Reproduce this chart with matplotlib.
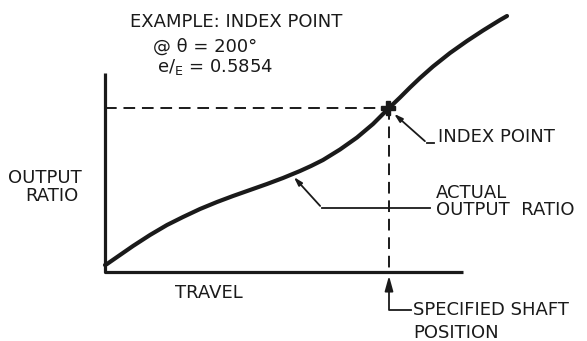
import matplotlib.pyplot as plt
import numpy as np

# curve (travel, output ratio) in drawing units
travel = [0, 2, 15, 28, 45, 62, 78, 95, 112, 128, 145, 162, 178, 195, 206,
          218, 235, 252, 268, 283, 295, 305, 315, 328, 345, 362, 378, 395, 402]
ratio = [7, 8, 17, 26, 37, 47, 55, 63, 70, 76, 82, 88, 94, 101, 106,
         112, 122.5, 134.5, 148, 163, 174.5, 184.5, 194, 205.5, 219, 231, 241.5, 252, 256]

# index point
index_travel = 283
index_ratio = 164

# axis extents
x_axis_end = 358
y_axis_end = 199

fig = plt.figure(figsize=(5.87, 3.41), dpi=100)
ax = fig.add_axes([0, 0, 1, 1])
ax.set_xlim(-105, 482)
ax.set_ylim(-69, 272)
ax.axis('off')

ink = '#1a1a1a'
font = dict(family='DejaVu Sans', fontsize=13, color=ink)

# axes of the diagram
ax.plot([0, 0, x_axis_end], [y_axis_end, 0, 0], color=ink, lw=2.3,
        solid_joinstyle='round', solid_capstyle='butt')

# the actual output ratio curve
ax.plot(travel, ratio, color=ink, lw=3, solid_capstyle='round',
        solid_joinstyle='round')

# dashed projections of the index point
ax.plot([0, index_travel], [index_ratio, index_ratio], color=ink, lw=1.4,
        dashes=(6, 3.5))
ax.plot([index_travel + 1, index_travel + 1], [index_ratio, 0], color=ink, lw=1.4,
        dashes=(6, 3.5))
ax.plot(index_travel, index_ratio, marker='P', ms=10, color=ink)

# leaders
ax.annotate('', xy=(index_travel + 4, index_ratio - 4), xytext=(322, 129),
            arrowprops=dict(arrowstyle='-|>,head_length=0.5,head_width=0.15',
                            color=ink, lw=1.3))
ax.plot([322, 329], [129, 129], color=ink, lw=1.3)
ax.text(333, 135, 'INDEX POINT', va='center', ha='left', **font)

ax.annotate('', xy=(187, 97), xytext=(217, 64),
            arrowprops=dict(arrowstyle='-|>,head_length=0.5,head_width=0.15',
                            color=ink, lw=1.3))
ax.plot([217, 325], [64, 64], color=ink, lw=1.3)
ax.text(331, 88, 'ACTUAL\nOUTPUT  RATIO', va='top', ha='left',
        linespacing=0.92, **font)

ax.annotate('', xy=(index_travel + 1, -1), xytext=(index_travel + 1, -20),
            arrowprops=dict(arrowstyle='-|>,head_length=0.9,head_width=0.25',
                            color=ink, lw=1.3))
ax.plot([index_travel + 1, index_travel + 1, 306], [-20, -38, -38], color=ink, lw=1.3)
ax.text(308, -38, 'SPECIFIED SHAFT', va='center', ha='left', **font)
ax.text(308, -61, 'POSITION', va='center', ha='left', **font)

# labels
ax.text(-97, 94, 'OUTPUT', va='center', ha='left', **font)
ax.text(-80, 76, 'RATIO', va='center', ha='left', **font)
ax.text(70, -21, 'TRAVEL', va='center', ha='left', **font)

ax.text(25, 250, 'EXAMPLE: INDEX POINT', va='center', ha='left', **font)
ax.text(48, 225, '@ θ = 200°', va='center', ha='left', **font)
ax.text(52, 205, r'e/$_\mathrm{E}$ = 0.5854', va='center', ha='left', **font)

fig.savefig('out.png', dpi=100, facecolor='white')
